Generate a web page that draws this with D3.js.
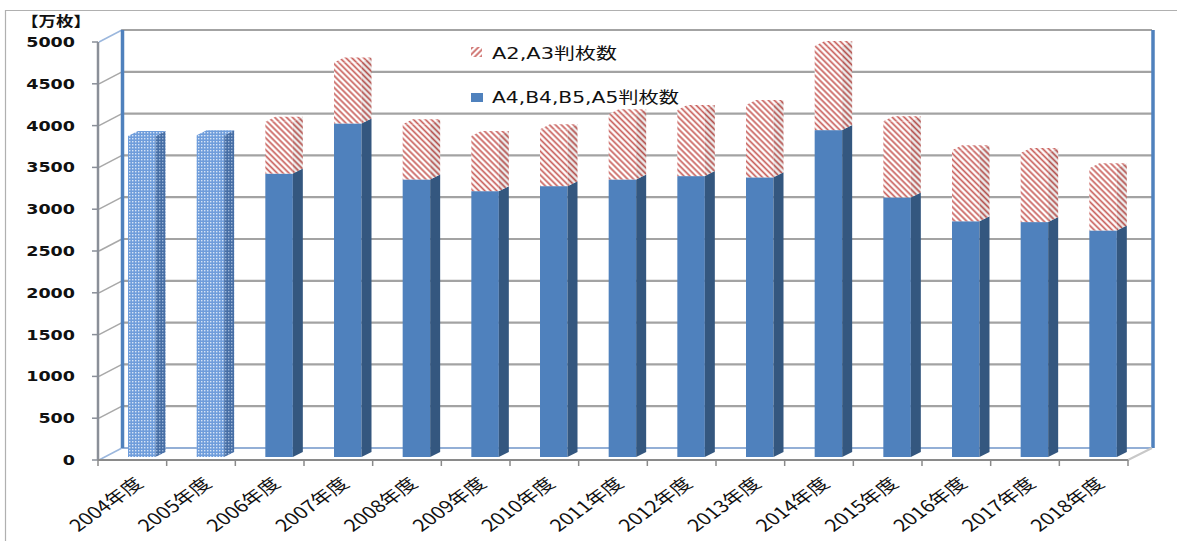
<!DOCTYPE html>
<html><head><meta charset="utf-8">
<script src="https://cdnjs.cloudflare.com/ajax/libs/d3/7.8.5/d3.min.js"></script>
<style>html,body{margin:0;padding:0;background:#fff;}svg{display:block;}</style>
</head><body>
<svg id="c" width="1177" height="541"></svg>
<script>
const categories = ["2004年度","2005年度","2006年度","2007年度","2008年度","2009年度","2010年度","2011年度","2012年度","2013年度","2014年度","2015年度","2016年度","2017年度","2018年度"];
const seriesA4 = [3840,3850,3390,3990,3320,3180,3240,3320,3360,3345,3910,3105,2820,2810,2710];
const seriesA2 = [0,0,620,730,660,660,680,780,790,865,1005,910,850,825,745];
const seriesNames = ["A2,A3判枚数","A4,B4,B5,A5判枚数"];
const yTicks = [0,500,1000,1500,2000,2500,3000,3500,4000,4500,5000];
const unitLabel = "【万枚】";

const svg = d3.select("#c");
const defs = svg.append("defs");
function hatch(id, angle, bg, col, sp){
  const p = defs.append("pattern").attr("id",id).attr("patternUnits","userSpaceOnUse")
    .attr("width",sp).attr("height",sp).attr("patternTransform","rotate("+angle+")");
  p.append("rect").attr("width",sp).attr("height",sp).attr("fill",bg);
  p.append("line").attr("x1",sp/2).attr("y1",0).attr("x2",sp/2).attr("y2",sp)
    .attr("stroke",col).attr("stroke-width",1.7);
}
hatch("hf",-45,"#fff","#c9605c",4.2);
hatch("hs",-45,"#ececec","#b4504c",4.2);
hatch("hl",45,"#fff","#c9605c",4.2);
function dots(id,bg,dot){
  const p = defs.append("pattern").attr("id",id).attr("patternUnits","userSpaceOnUse").attr("width",3).attr("height",3);
  p.append("rect").attr("width",3).attr("height",3).attr("fill",bg);
  p.append("rect").attr("width",1.4).attr("height",1.4).attr("fill",dot);
}
dots("df","#6f9ddb","#d6e4f6");
dots("ds","#476fa6","#9db6d8");

const x = d3.scaleBand().domain(categories).range([98,1128]).padding(0);
const yFront = d3.scaleLinear().domain([0,5000]).range([460,42]);
const yBack = d3.scaleLinear().domain([0,5000]).range([448,30]);
const yBar = d3.scaleLinear().domain([0,5000]).range([457,39]);
const DX = 23, DY = -12; // wall depth
const bw = x.bandwidth();

// outer border
svg.append("path").attr("d","M5.5,541 L5.5,10.5 L1177,10.5").attr("fill","none").attr("stroke","#b0b0b0").attr("stroke-width",1.2);

// back gridlines
svg.append("g").selectAll("line").data(yTicks.slice(1)).join("line")
  .attr("x1",121).attr("x2",1152).attr("y1",d=>yBack(d)).attr("y2",d=>yBack(d))
  .attr("stroke","#a3a3a3").attr("stroke-width",2.2);
// floor back edge
svg.append("line").attr("x1",121).attr("x2",1152).attr("y1",yBack(0)).attr("y2",yBack(0)).attr("stroke","#6f95c8").attr("stroke-width",1.4);
// left wall diagonals
svg.append("g").selectAll("line").data(yTicks).join("line")
  .attr("x1",99).attr("y1",d=>yFront(d)).attr("x2",99+DX).attr("y2",d=>yFront(d)+DY)
  .attr("stroke",d=>(d===5000||d===0)?"#9bb7dd":"#a8a8a8").attr("stroke-width",1.5);
// walls (blue edges)
svg.append("line").attr("x1",122.5).attr("x2",122.5).attr("y1",yBack(5000)).attr("y2",yBack(0)).attr("stroke","#4f81bd").attr("stroke-width",3.5);
svg.append("line").attr("x1",1153).attr("x2",1153).attr("y1",yBack(5000)).attr("y2",yBack(0)).attr("stroke","#4f81bd").attr("stroke-width",3.5);
// floor right diagonal
svg.append("line").attr("x1",1128).attr("y1",460).attr("x2",1152).attr("y2",448).attr("stroke","#c8c8c8").attr("stroke-width",2);

// bars
const BX = 30, BW = 27.5, SX = 10, SY = -5;
function box(g, x0, yb, yt, front, side, top){
  g.append("rect").attr("x",x0).attr("y",yt).attr("width",BW).attr("height",yb-yt).attr("fill",front);
  g.append("path").attr("d",`M${x0+BW},${yb} L${x0+BW},${yt} L${x0+BW+SX},${yt+SY} L${x0+BW+SX},${yb+SY} Z`).attr("fill",side);
  if(top) g.append("path").attr("d",`M${x0},${yt} L${x0+BW},${yt} L${x0+BW+SX},${yt+SY} L${x0+SX},${yt+SY} Z`).attr("fill",top);
}
const gb = svg.append("g");
categories.forEach((c,i)=>{
  const g = gb.append("g");
  const x0 = x(c)+BX;
  const a4 = seriesA4[i], a2 = seriesA2[i];
  if(a2===0){
    box(g,x0,yBar(0),yBar(a4),"url(#df)","url(#ds)","url(#df)");
  } else {
    box(g,x0,yBar(0),yBar(a4),"#4f81bd","#34577f",null);
    box(g,x0,yBar(a4),yBar(a4+a2),"url(#hf)","url(#hs)","url(#hf)");
  }
});

// front y axis
svg.append("line").attr("x1",98).attr("x2",98).attr("y1",yFront(5000)).attr("y2",yFront(0)).attr("stroke","#8a8f98").attr("stroke-width",2.5);
svg.append("g").selectAll("line").data(yTicks).join("line")
  .attr("x1",92).attr("x2",98).attr("y1",d=>yFront(d)).attr("y2",d=>yFront(d)).attr("stroke","#8a8f98").attr("stroke-width",1.5);
svg.append("g").selectAll("text").data(yTicks).join("text")
  .attr("transform",d=>`translate(75,${yFront(d)+5}) scale(1.3,1)`)
  .attr("text-anchor","end").attr("font-family","DejaVu Sans, Verdana, sans-serif").attr("font-size",13.5)
  .attr("font-weight","bold").attr("fill","#111").text(d=>d);
svg.append("text").attr("transform","translate(21,26) scale(1.25,1)").attr("font-family","Noto Sans CJK JP").attr("font-weight","bold").attr("font-size",14).attr("fill","#111").text(unitLabel);

// x axis
svg.append("line").attr("x1",98).attr("x2",1128).attr("y1",460).attr("y2",460).attr("stroke","#8a8a8a").attr("stroke-width",2);
const bounds = categories.map(c=>x(c)).concat([x.range()[1]]);
svg.append("g").selectAll("line").data(bounds).join("line")
  .attr("x1",d=>d).attr("x2",d=>d).attr("y1",460).attr("y2",466).attr("stroke","#8a8a8a").attr("stroke-width",1.5);
svg.append("g").selectAll("text").data(categories).join("text")
  .attr("transform",d=>`translate(${x(d)+bw/2+12},${485}) scale(1.3,1) rotate(-43)`)
  .attr("text-anchor","end").attr("font-family","Noto Sans CJK JP, sans-serif").attr("font-size",16.5).attr("fill","#111").text(d=>d);

// legend
const lg = svg.append("g");
lg.append("rect").attr("x",471).attr("y",47).attr("width",11).attr("height",10).attr("fill","url(#hl)");
lg.append("rect").attr("x",471).attr("y",93).attr("width",12).attr("height",9).attr("fill","#4f81bd");
lg.append("text").attr("x",492).attr("y",58.5).attr("font-family","DejaVu Sans, Noto Sans CJK JP").attr("font-size",15.5)
  .attr("textLength",125).attr("lengthAdjust","spacingAndGlyphs").attr("fill","#111").text(seriesNames[0]);
lg.append("text").attr("x",492).attr("y",102.5).attr("font-family","DejaVu Sans, Noto Sans CJK JP").attr("font-size",15.5)
  .attr("textLength",187).attr("lengthAdjust","spacingAndGlyphs").attr("fill","#111").text(seriesNames[1]);
</script>
</body></html>
